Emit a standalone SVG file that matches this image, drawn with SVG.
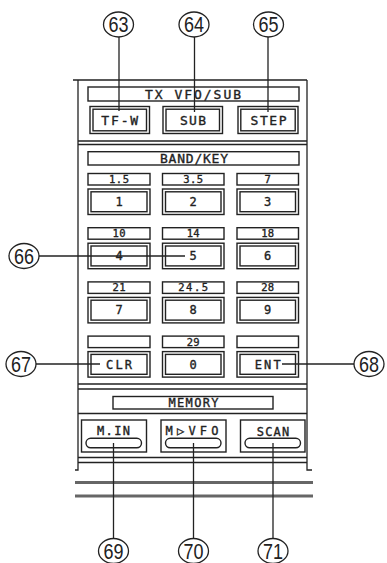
<svg xmlns="http://www.w3.org/2000/svg" width="387" height="563" viewBox="0 0 387 563">
<style>
.ln{stroke:#222;stroke-width:1.3;fill:none}
.bx{fill:none;stroke:#222;stroke-width:1.4}
.brk{stroke:#666;stroke-width:2.8}
.t{font-family:"DejaVu Sans Mono","Liberation Mono",monospace;fill:#222;stroke:#222;stroke-width:0.35;text-anchor:middle}
.t13{font-size:13px}
.t12{font-size:12px}
.t10{font-size:10.5px}
.c{font-family:"Liberation Sans",Arial,sans-serif;font-size:22px;fill:#222;text-anchor:middle}
.cc{fill:#fff;stroke:#222;stroke-width:1.3}
</style>
<rect width="387" height="563" fill="#fff"/>

<g id="panel">
  <path class="ln" d="M73,80 H307 M78,80 V470 H75 M307,80 V470 H312"/>
  <path class="ln" d="M78,141 H307 M78,144.5 H307"/>
  <path class="ln" d="M78,384 H307 M78,389 H307"/>
  <path class="ln" d="M78,413.5 H307"/>
  <path class="ln" d="M78,457.5 H307 M78,462.5 H307"/>
  <path class="brk" d="M75,482.5 H313 M75,496 H313"/>
</g>

<g id="connectors">
  <path class="ln" d="M119,37 V111 M194.5,37 V112 M268,37 V112"/>
  <path class="ln" d="M39,256 H185"/>
  <path class="ln" d="M36,364 H100"/>
  <path class="ln" d="M282,364 H354"/>
  <path class="ln" d="M113.5,443 V538.5 M193.5,443 V538.5 M273,443 V538.5"/>
</g>

<g id="tx-vfo-sub-label">
  <rect class="bx" x="88" y="87" width="211" height="14"/>
  <text class="t t13" x="193" y="99" textLength="96" lengthAdjust="spacing">TX VFO/SUB</text>
</g>
<g id="btn-tfw">
  <rect class="bx" x="90" y="106.5" width="59.5" height="27"/>
  <rect class="bx" x="93" y="109.2" width="53.5" height="21.6"/>
  <text class="t t13" x="119.7" y="125" textLength="37" lengthAdjust="spacing">TF-W</text>
</g>
<g id="btn-sub">
  <rect class="bx" x="163" y="106.5" width="59.5" height="27"/>
  <rect class="bx" x="166" y="109.2" width="53.5" height="21.6"/>
  <text class="t t13" x="193" y="125" textLength="26" lengthAdjust="spacing">SUB</text>
</g>
<g id="btn-step">
  <rect class="bx" x="238" y="106.5" width="60" height="27"/>
  <rect class="bx" x="240.8" y="109.2" width="54.4" height="21.6"/>
  <text class="t t13" x="268.5" y="125" textLength="36" lengthAdjust="spacing">STEP</text>
</g>

<g id="band-key-label">
  <rect class="bx" x="88" y="151.7" width="211" height="13.3"/>
  <text class="t t13" x="194" y="163" textLength="68" lengthAdjust="spacing">BAND/KEY</text>
</g>

<g id="key-1">
  <rect class="bx" x="88" y="173.5" width="62" height="11.5"/>
  <text class="t t10" x="119" y="183" textLength="20" lengthAdjust="spacing">1.5</text>
  <rect class="bx" x="88" y="189" width="62" height="25.5"/>
  <rect class="bx" x="91" y="191.8" width="56" height="19.9"/>
  <text class="t t12" x="119" y="206">1</text>
</g>
<g id="key-2">
  <rect class="bx" x="162.5" y="173.5" width="61.5" height="11.5"/>
  <text class="t t10" x="193.2" y="183" textLength="20" lengthAdjust="spacing">3.5</text>
  <rect class="bx" x="162.5" y="189" width="61.5" height="25.5"/>
  <rect class="bx" x="165.5" y="191.8" width="55.5" height="19.9"/>
  <text class="t t12" x="193.2" y="206">2</text>
</g>
<g id="key-3">
  <rect class="bx" x="237" y="173.5" width="61.5" height="11.5"/>
  <text class="t t10" x="267.7" y="183">7</text>
  <rect class="bx" x="237" y="189" width="61.5" height="25.5"/>
  <rect class="bx" x="240" y="191.8" width="55.5" height="19.9"/>
  <text class="t t12" x="267.7" y="206">3</text>
</g>

<g id="key-4">
  <rect class="bx" x="88" y="227.7" width="62" height="11.5"/>
  <text class="t t10" x="119" y="237.2" textLength="13" lengthAdjust="spacing">10</text>
  <rect class="bx" x="88" y="243.2" width="62" height="25.5"/>
  <rect class="bx" x="91" y="246" width="56" height="19.9"/>
  <text class="t t12" x="119" y="260.2">4</text>
</g>
<g id="key-5">
  <rect class="bx" x="162.5" y="227.7" width="61.5" height="11.5"/>
  <text class="t t10" x="193.2" y="237.2" textLength="13" lengthAdjust="spacing">14</text>
  <rect class="bx" x="162.5" y="243.2" width="61.5" height="25.5"/>
  <rect class="bx" x="165.5" y="246" width="55.5" height="19.9"/>
  <text class="t t12" x="193.2" y="260.2">5</text>
</g>
<g id="key-6">
  <rect class="bx" x="237" y="227.7" width="61.5" height="11.5"/>
  <text class="t t10" x="267.7" y="237.2" textLength="13" lengthAdjust="spacing">18</text>
  <rect class="bx" x="237" y="243.2" width="61.5" height="25.5"/>
  <rect class="bx" x="240" y="246" width="55.5" height="19.9"/>
  <text class="t t12" x="267.7" y="260.2">6</text>
</g>

<g id="key-7">
  <rect class="bx" x="88" y="281.9" width="62" height="11.5"/>
  <text class="t t10" x="119" y="291.4" textLength="13" lengthAdjust="spacing">21</text>
  <rect class="bx" x="88" y="297.4" width="62" height="25.5"/>
  <rect class="bx" x="91" y="300.2" width="56" height="19.9"/>
  <text class="t t12" x="119" y="314.4">7</text>
</g>
<g id="key-8">
  <rect class="bx" x="162.5" y="281.9" width="61.5" height="11.5"/>
  <text class="t t10" x="193.2" y="291.4" textLength="30" lengthAdjust="spacing">24.5</text>
  <rect class="bx" x="162.5" y="297.4" width="61.5" height="25.5"/>
  <rect class="bx" x="165.5" y="300.2" width="55.5" height="19.9"/>
  <text class="t t12" x="193.2" y="314.4">8</text>
</g>
<g id="key-9">
  <rect class="bx" x="237" y="281.9" width="61.5" height="11.5"/>
  <text class="t t10" x="267.7" y="291.4" textLength="13" lengthAdjust="spacing">28</text>
  <rect class="bx" x="237" y="297.4" width="61.5" height="25.5"/>
  <rect class="bx" x="240" y="300.2" width="55.5" height="19.9"/>
  <text class="t t12" x="267.7" y="314.4">9</text>
</g>

<g id="key-clr">
  <rect class="bx" x="88" y="336.1" width="62" height="11.5"/>
  <rect class="bx" x="88" y="351.6" width="62" height="25.5"/>
  <rect class="bx" x="91" y="354.4" width="56" height="19.9"/>
  <text class="t t12" x="119" y="368.6" textLength="26" lengthAdjust="spacing">CLR</text>
</g>
<g id="key-0">
  <rect class="bx" x="162.5" y="336.1" width="61.5" height="11.5"/>
  <text class="t t10" x="193.2" y="345.6" textLength="13" lengthAdjust="spacing">29</text>
  <rect class="bx" x="162.5" y="351.6" width="61.5" height="25.5"/>
  <rect class="bx" x="165.5" y="354.4" width="55.5" height="19.9"/>
  <text class="t t12" x="193.2" y="368.6">0</text>
</g>
<g id="key-ent">
  <rect class="bx" x="237" y="336.1" width="61.5" height="11.5"/>
  <rect class="bx" x="237" y="351.6" width="61.5" height="25.5"/>
  <rect class="bx" x="240" y="354.4" width="55.5" height="19.9"/>
  <text class="t t12" x="267.7" y="368.6" textLength="26" lengthAdjust="spacing">ENT</text>
</g>

<g id="memory-label">
  <rect class="bx" x="113" y="396.5" width="160" height="12.5"/>
  <text class="t t12" x="193.5" y="407" textLength="50" lengthAdjust="spacing">MEMORY</text>
</g>
<g id="btn-min">
  <rect class="bx" x="81.5" y="420" width="65" height="32"/>
  <rect class="bx" x="86" y="438.3" width="55.5" height="9.5" rx="4.7"/>
  <text class="t t12" x="113.5" y="435" textLength="33" lengthAdjust="spacing">M.IN</text>
</g>
<g id="btn-mvfo">
  <rect class="bx" x="161" y="420" width="65" height="32"/>
  <rect class="bx" x="165.5" y="438.3" width="55.5" height="9.5" rx="4.7"/>
  <text class="t t12" x="192" y="435" textLength="53" lengthAdjust="spacing">M▷VFO</text>
</g>
<g id="btn-scan">
  <rect class="bx" x="240.5" y="420" width="64.5" height="32"/>
  <rect class="bx" x="245" y="438.3" width="55.5" height="9.5" rx="4.7"/>
  <text class="t t12" x="273" y="435.5" textLength="32.6" lengthAdjust="spacing">SCAN</text>
</g>

<g id="callout-63"><ellipse class="cc" cx="118.5" cy="24.5" rx="15" ry="12.5"/><text class="c" x="118.5" y="32.2" textLength="20" lengthAdjust="spacingAndGlyphs">63</text></g>
<g id="callout-64"><ellipse class="cc" cx="194" cy="24.5" rx="15" ry="12.5"/><text class="c" x="194" y="32.2" textLength="20" lengthAdjust="spacingAndGlyphs">64</text></g>
<g id="callout-65"><ellipse class="cc" cx="268.5" cy="24.5" rx="15" ry="12.5"/><text class="c" x="268.5" y="32.2" textLength="20" lengthAdjust="spacingAndGlyphs">65</text></g>
<g id="callout-66"><ellipse class="cc" cx="24" cy="256" rx="15" ry="12.5"/><text class="c" x="24" y="263.7" textLength="20" lengthAdjust="spacingAndGlyphs">66</text></g>
<g id="callout-67"><ellipse class="cc" cx="21" cy="364" rx="15" ry="12.5"/><text class="c" x="21" y="371.7" textLength="20" lengthAdjust="spacingAndGlyphs">67</text></g>
<g id="callout-68"><ellipse class="cc" cx="369" cy="364" rx="15" ry="12.5"/><text class="c" x="369" y="371.7" textLength="20" lengthAdjust="spacingAndGlyphs">68</text></g>
<g id="callout-69"><ellipse class="cc" cx="113.5" cy="551" rx="15" ry="12.5"/><text class="c" x="113.5" y="558.7" textLength="20" lengthAdjust="spacingAndGlyphs">69</text></g>
<g id="callout-70"><ellipse class="cc" cx="193.5" cy="551" rx="15" ry="12.5"/><text class="c" x="193.5" y="558.7" textLength="20" lengthAdjust="spacingAndGlyphs">70</text></g>
<g id="callout-71"><ellipse class="cc" cx="273" cy="551" rx="15" ry="12.5"/><text class="c" x="273" y="558.7" textLength="20" lengthAdjust="spacingAndGlyphs">71</text></g>
</svg>
